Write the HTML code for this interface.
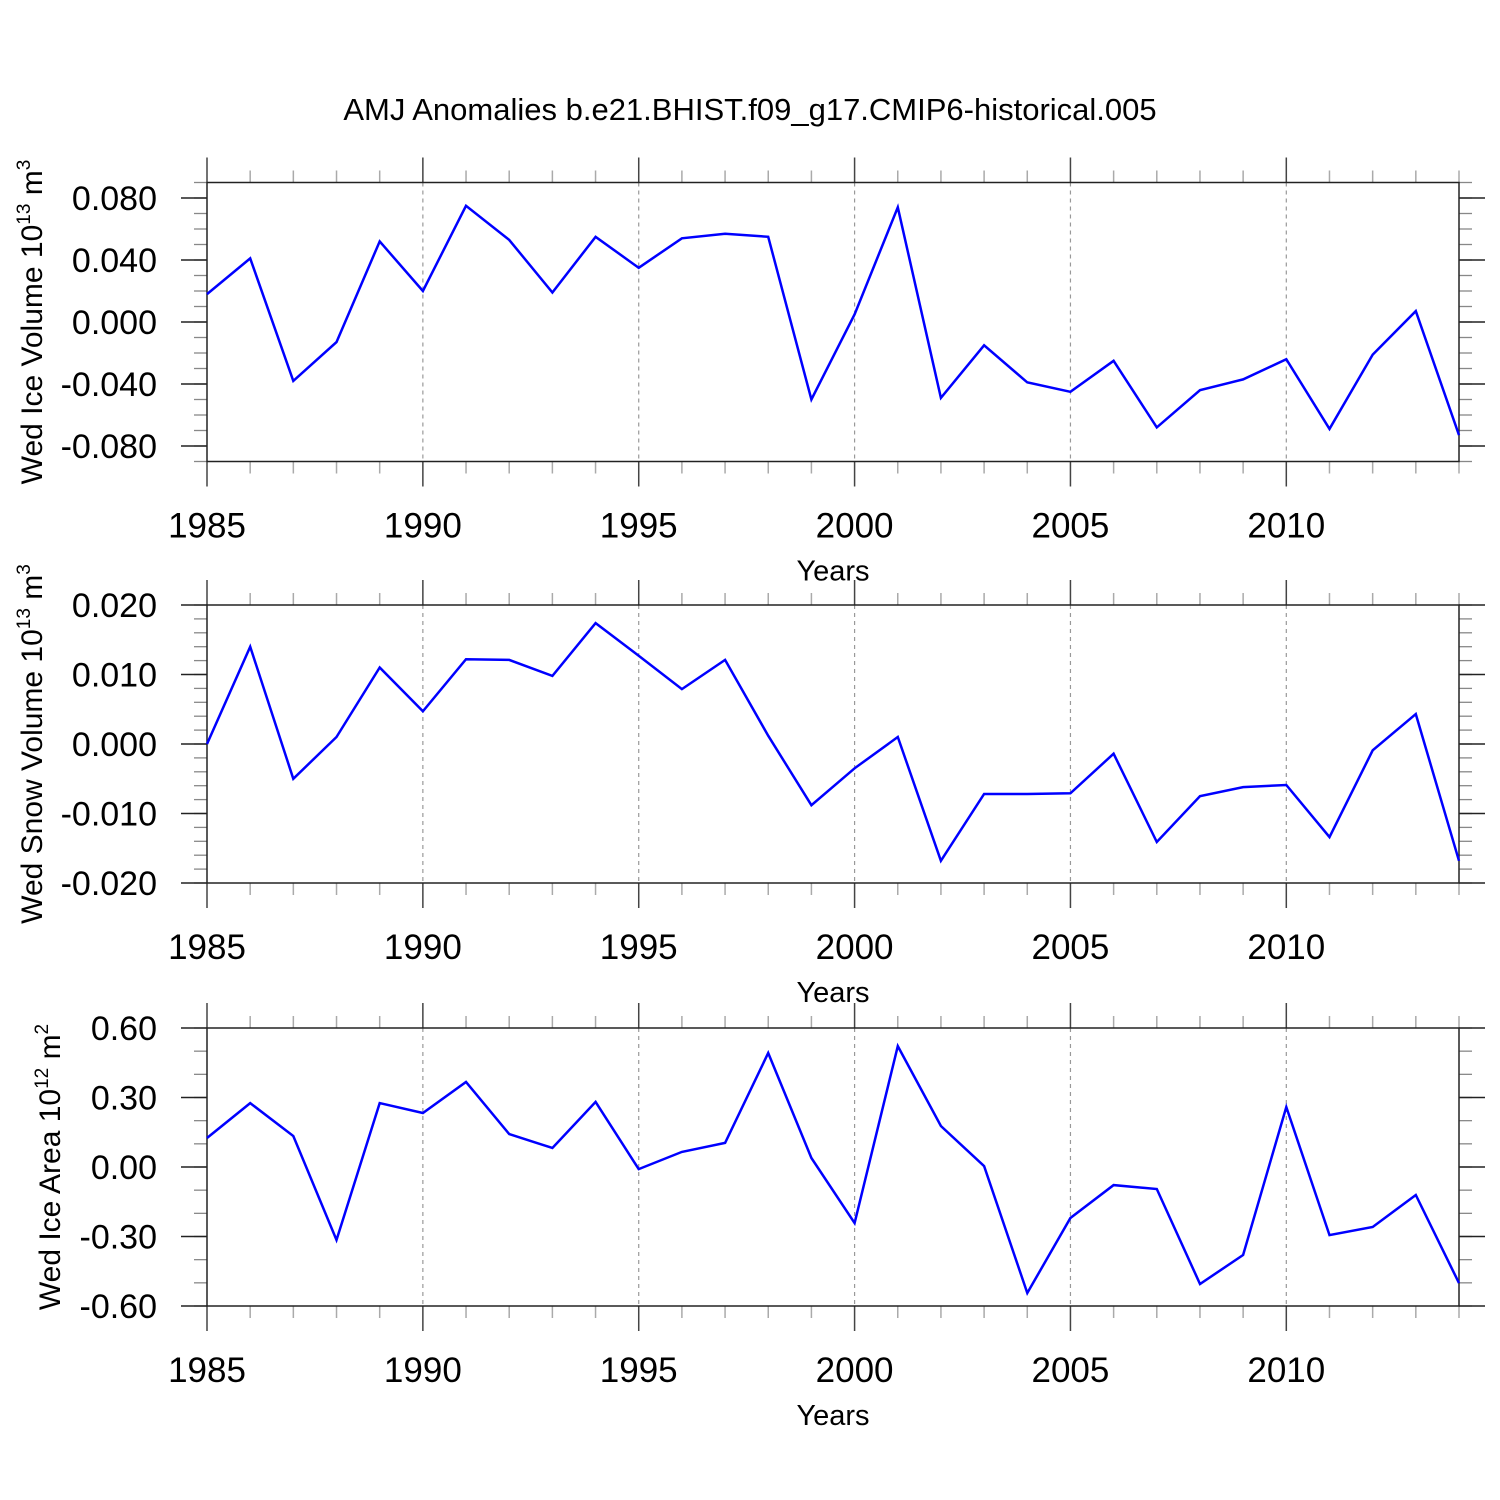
<!DOCTYPE html>
<html><head><meta charset="utf-8"><style>
html,body{margin:0;padding:0;background:#fff;}
svg{display:block;font-family:"Liberation Sans",Arial,sans-serif;}
</style></head><body>
<svg id="chart" width="1500" height="1500" viewBox="0 0 1500 1500">
<text x="750" y="120" text-anchor="middle" font-size="31">AMJ Anomalies b.e21.BHIST.f09_g17.CMIP6-historical.005</text>
</svg>
<script>
const years = [1985,1986,1987,1988,1989,1990,1991,1992,1993,1994,1995,1996,1997,1998,1999,2000,2001,2002,2003,2004,2005,2006,2007,2008,2009,2010,2011,2012,2013,2014];
const iceVolume = [0.018,0.041,-0.038,-0.013,0.052,0.020,0.075,0.053,0.019,0.055,0.035,0.054,0.057,0.055,-0.050,0.005,0.074,-0.049,-0.015,-0.039,-0.045,-0.025,-0.068,-0.044,-0.037,-0.024,-0.069,-0.021,0.007,-0.073];
const snowVolume = [0.0,0.014,-0.005,0.001,0.011,0.0047,0.0122,0.0121,0.0098,0.0174,0.0127,0.0079,0.0121,0.0012,-0.0088,-0.0035,0.001,-0.0168,-0.0072,-0.0072,-0.0071,-0.0014,-0.0141,-0.0075,-0.0062,-0.0059,-0.0134,-0.0009,0.0043,-0.0168];
const iceArea = [0.125,0.276,0.134,-0.315,0.276,0.233,0.367,0.142,0.082,0.281,-0.009,0.065,0.104,0.492,0.039,-0.242,0.522,0.177,0.004,-0.544,-0.220,-0.078,-0.095,-0.505,-0.380,0.259,-0.294,-0.259,-0.121,-0.501];
const xTickLabels = ["1985","1990","1995","2000","2005","2010"];
const iceVolTicks = ["-0.080","-0.040","0.000","0.040","0.080"];
const snowVolTicks = ["-0.020","-0.010","0.000","0.010","0.020"];
const iceAreaTicks = ["-0.60","-0.30","0.00","0.30","0.60"];

const svg = document.getElementById('chart');
const NS = 'http://www.w3.org/2000/svg';
function mk(tag, attrs, parent){
  const e = document.createElementNS(NS, tag);
  for (const k in attrs) e.setAttribute(k, attrs[k]);
  (parent||svg).appendChild(e);
  return e;
}
const X0 = 207, X1 = 1459, yrMin = 1985, yrMax = 2014;
const xs = y => X0 + (y - yrMin) / (yrMax - yrMin) * (X1 - X0);

function panel(cfg){
  const g = mk('g', {});
  
  
  const ys = v => cfg.bot + (v - cfg.min) / (cfg.max - cfg.min) * (cfg.top - cfg.bot);
  for (let y = 1990; y <= 2010; y += 5) {
    const l = mk('line', {x1: xs(y), x2: xs(y), y1: cfg.top, y2: cfg.bot, stroke: '#999', 'stroke-width': 1.2, 'stroke-dasharray': '4,4'}, g);
    
    
  }
  for (let y = yrMin; y <= yrMax; y++) {
    const major = (y % 5 === 0);
    const len = major ? 25 : 12;
    mk('line', {x1: xs(y), x2: xs(y), y1: cfg.top, y2: cfg.top - len, stroke: major ? '#444' : '#aaa', 'stroke-width': 1.5}, g);
    mk('line', {x1: xs(y), x2: xs(y), y1: cfg.bot, y2: cfg.bot + len, stroke: major ? '#444' : '#aaa', 'stroke-width': 1.5}, g);
  }
  xTickLabels.forEach(s => {
    const t = mk('text', {x: xs(+s), y: cfg.bot + 76, 'text-anchor': 'middle', 'font-size': 35}, g);
    
    
    t.textContent = s;
  });
  const xt = mk('text', {x: 833, y: cfg.bot + 119, 'text-anchor': 'middle', 'font-size': 29}, g);
  
  
  xt.textContent = 'Years';
  const n = Math.round((cfg.max - cfg.min) / cfg.minor);
  for (let i = 0; i <= n; i++) {
    const v = cfg.min + i * cfg.minor;
    mk('line', {x1: X0, x2: X0 - 13, y1: ys(v), y2: ys(v), stroke: '#888', 'stroke-width': 1.3}, g);
    mk('line', {x1: X1, x2: X1 + 13, y1: ys(v), y2: ys(v), stroke: '#888', 'stroke-width': 1.3}, g);
  }
  cfg.ticks.forEach(s => {
    const v = parseFloat(s);
    mk('line', {x1: X0, x2: X0 - 26, y1: ys(v), y2: ys(v), stroke: '#222', 'stroke-width': 1.5}, g);
    mk('line', {x1: X1, x2: X1 + 26, y1: ys(v), y2: ys(v), stroke: '#222', 'stroke-width': 1.5}, g);
    const t = mk('text', {x: 157, y: ys(v) + 12, 'text-anchor': 'end', 'font-size': 34}, g);
    
    
    t.textContent = s;
  });
  const b = mk('rect', {x: X0, y: cfg.top, width: X1 - X0, height: cfg.bot - cfg.top, fill: 'none', stroke: '#222', 'stroke-width': 1.5}, g);
  
  
  const pts = years.map((y, i) => xs(y).toFixed(1) + ',' + ys(cfg.data[i]).toFixed(1)).join(' ');
  const pl = mk('polyline', {points: pts, fill: 'none', stroke: '#0000ff', 'stroke-width': 2.5, 'stroke-linejoin': 'miter'}, g);
  
  
  const cy = (cfg.top + cfg.bot) / 2;
  const yt = mk('text', {x: cfg.tx, y: cy, 'text-anchor': 'middle', 'font-size': 30, transform: 'rotate(-90 ' + cfg.tx + ' ' + cy + ')'}, g);
  
  
  yt.innerHTML = cfg.title + ' 10<tspan dy="-12" font-size="19">' + cfg.exp + '</tspan><tspan dy="12"> m</tspan><tspan dy="-12" font-size="19">' + cfg.unit + '</tspan>';
}
panel({name:'ice-volume-panel', top:182.5, bot:461.5, min:-0.09, max:0.09, minor:0.01, ticks:iceVolTicks, data:iceVolume, title:'Wed Ice Volume', exp:'13', unit:'3', tx:42});
panel({name:'snow-volume-panel', top:605, bot:883, min:-0.02, max:0.02, minor:0.002, ticks:snowVolTicks, data:snowVolume, title:'Wed Snow Volume', exp:'13', unit:'3', tx:42});
panel({name:'ice-area-panel', top:1028, bot:1306, min:-0.6, max:0.6, minor:0.1, ticks:iceAreaTicks, data:iceArea, title:'Wed Ice Area', exp:'12', unit:'2', tx:60});
</script>
</body></html>
